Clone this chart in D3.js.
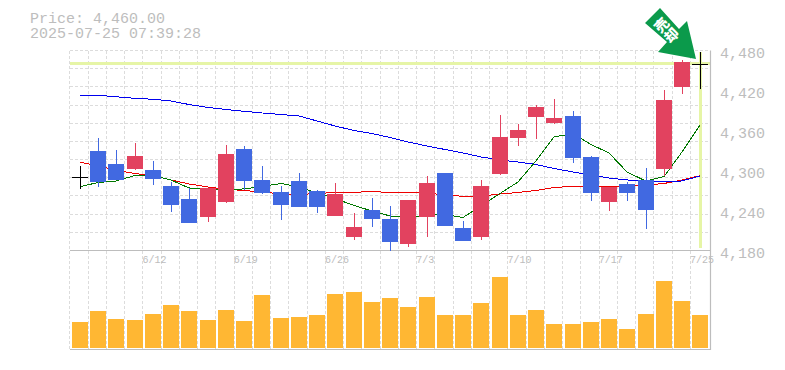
<!DOCTYPE html>
<html lang="en">
    <head>
        <meta charset="utf-8">
        <title>Price chart</title>
        <script type="text/javascript" src="https://d3js.org/d3.v7.min.js"></script>
        <style type="text/css">
            html, body {
                margin: 0;
                padding: 0;
                background: white;
                overflow: hidden;
            }
            svg {
                display: block;
            }
            text {
                font-family: "Liberation Mono", monospace;
                fill: #bdbdbd;
            }
        </style>
    </head>
    <body>
        <svg width="785" height="370"></svg>
        <script type="text/javascript">

        const dates = ["6/6","6/9","6/10","6/11","6/12","6/13","6/16","6/17","6/18","6/19","6/20","6/23","6/24","6/25","6/26","6/27","6/30","7/1","7/2","7/3","7/4","7/7","7/8","7/9","7/10","7/11","7/14","7/15","7/16","7/17","7/18","7/22","7/23","7/24","7/25"];
        const dateTicks = ["6/12","6/19","6/26","7/3","7/10","7/17","7/25"];
        const priceTicks = [4480, 4420, 4360, 4300, 4240, 4180];

        const opens = [4291,4329,4310,4302,4301,4277,4257,4230,4253,4332,4286,4268,4284,4269,4232,4200,4241,4227,4190,4230,4296,4214,4200,4295,4349,4380,4371,4382,4320,4253,4280,4286,4302,4426,4460];
        const closes = [4291,4283,4286,4322,4287,4248,4221,4274,4325,4284,4266,4248,4245,4245,4265,4215,4227,4193,4256,4281,4217,4194,4277,4350,4361,4395,4379,4319,4266,4275,4266,4241,4406,4463,4460];
        const highs = [4307,4349,4331,4341,4314,4283,4274,4274,4338,4337,4307,4277,4296,4271,4281,4236,4259,4247,4256,4292,4296,4224,4286,4383,4370,4398,4407,4389,4322,4275,4283,4304,4421,4466,4478];
        const lows = [4273,4275,4286,4301,4278,4238,4221,4223,4251,4271,4265,4226,4245,4236,4232,4196,4215,4179,4185,4200,4217,4194,4196,4293,4337,4347,4370,4311,4254,4239,4254,4212,4292,4415,4423];

        const volumes = [26,37,29,28,34,43,37,28,38,27,53,30,31,33,54,56,46,50,41,51,33,33,45,71,33,38,24,24,26,29,19,34,67,47,33];

        const maRed = [4312.3,4307.2,4300,4295.5,4292.2,4285.8,4279.8,4275.3,4271.8,4270,4267.8,4264.8,4264,4265.5,4267,4267.3,4268.5,4267,4266.3,4266.3,4263.3,4261.3,4261.5,4264.8,4267,4270,4274.5,4276.3,4276.3,4275.3,4276,4278.3,4280.5,4285.8,4292.2];
        const maBlue = [4412.8,4412.8,4410.6,4408.3,4406.8,4404.3,4399,4394.5,4391.5,4388.8,4386.3,4384,4381.8,4374.3,4366.8,4360,4355.5,4349.5,4342.8,4336.8,4331.5,4326.3,4320.3,4315.8,4312.8,4309,4303,4297.8,4293.3,4288.8,4285.8,4283.5,4282.8,4284.3,4291.8];
        const maGreen = [4275.7,4282,4284.3,4292.5,4292.5,4285.8,4273.8,4272.3,4271.5,4272.3,4276,4280.5,4275.3,4266.3,4258,4247.5,4239.3,4231.8,4229.5,4233.3,4234,4229.5,4246.8,4265.5,4282.8,4314.3,4350.3,4355.5,4339,4326.3,4297.8,4284,4291,4327.8,4368.3];

        const lastPrice = 4460;
        const titleLines = ["Price: 4,460.00", "2025-07-25 07:39:28"];
        const signalText = ["売", "却"];

        const plotLeft = 70, plotRight = 710, plotTop = 50.5, priceBottom = 250.5, volBottom = 348;
        const barWidth = 16;
        const upColor = "#e2425f", downColor = "#4169e1", volColor = "#ffb733";
        const gridColor = "#dcdcdc", borderColor = "#bdbdbd", lastColor = "#e6f5a6";

        const svg = d3.select("svg");

        const xScale = d3.scaleBand()
                         .domain(dates)
                         .range([plotLeft, plotLeft + 18.25 * dates.length]);
        const yScale = d3.scaleLinear()
                         .domain([4180, 4480])
                         .range([priceBottom, plotTop]);
        const volScale = d3.scaleLinear()
                           .domain([0, 80])
                           .range([volBottom, volBottom - 80]);

        const barLeft = d => Math.round(xScale(d) + 1.99);
        const barMid = d => barLeft(d) + barWidth / 2;

        // grid
        svg.append("g")
            .attr("shape-rendering", "crispEdges")
            .selectAll("line")
            .data(dates)
            .join("line")
            .attr("x1", d => Math.floor(xScale(d) - 0.25) + 0.5)
            .attr("x2", d => Math.floor(xScale(d) - 0.25) + 0.5)
            .attr("y1", plotTop)
            .attr("y2", 350)
            .attr("stroke", gridColor)
            .attr("stroke-dasharray", "3,2");

        svg.append("g")
            .attr("shape-rendering", "crispEdges")
            .selectAll("line")
            .data(d3.range(0, 11))
            .join("line")
            .attr("x1", plotLeft)
            .attr("x2", plotRight)
            .attr("y1", i => Math.round(yScale(4480 - i * 300 / 11) - 0.5) + 0.5)
            .attr("y2", i => Math.round(yScale(4480 - i * 300 / 11) - 0.5) + 0.5)
            .attr("stroke", gridColor)
            .attr("stroke-dasharray", "3,2");

        // current price marks
        svg.append("line")
            .attr("x1", plotLeft)
            .attr("x2", plotRight)
            .attr("y1", Math.floor(yScale(lastPrice)) + 0.5)
            .attr("y2", Math.floor(yScale(lastPrice)) + 0.5)
            .attr("stroke", lastColor)
            .attr("stroke-width", 3);

        svg.append("line")
            .attr("x1", barMid("7/25") + 0.5)
            .attr("x2", barMid("7/25") + 0.5)
            .attr("y1", 52)
            .attr("y2", 248)
            .attr("stroke", lastColor)
            .attr("stroke-width", 3);

        // borders
        [[plotLeft, 250.5, plotRight, 250.5], [plotLeft, 349.5, plotRight + 0.5, 349.5], [710.5, plotTop, 710.5, 350]].forEach(b => {
            svg.append("line")
                .attr("x1", b[0]).attr("y1", b[1])
                .attr("x2", b[2]).attr("y2", b[3])
                .attr("stroke", borderColor)
                .attr("stroke-width", 1.2);
        });

        // moving averages
        const maLine = d3.line()
                         .x((d, i) => barMid(dates[i]))
                         .y(d => yScale(d));

        [[maRed, "#ee0000"], [maBlue, "#0000ee"], [maGreen, "#007700"]].forEach(m => {
            svg.append("path")
                .attr("d", maLine(m[0]))
                .attr("fill", "none")
                .attr("stroke", m[1])
                .attr("stroke-width", 1)
                .attr("shape-rendering", "crispEdges");
        });

        // candles
        const candleColor = i => closes[i] === opens[i] ? "black" : (closes[i] > opens[i] ? upColor : downColor);

        const candles = svg.append("g")
                           .attr("shape-rendering", "crispEdges")
                           .selectAll("g")
                           .data(dates)
                           .join("g");

        candles.append("line")
            .attr("x1", d => barMid(d) + 0.5)
            .attr("x2", d => barMid(d) + 0.5)
            .attr("y1", (d, i) => yScale(highs[i]))
            .attr("y2", (d, i) => yScale(lows[i]))
            .attr("stroke", (d, i) => candleColor(i));

        candles.append("rect")
            .attr("x", barLeft)
            .attr("y", (d, i) => yScale(Math.max(opens[i], closes[i])))
            .attr("width", barWidth)
            .attr("height", (d, i) => Math.max(1, Math.abs(yScale(opens[i]) - yScale(closes[i]))))
            .attr("fill", (d, i) => candleColor(i));

        // volume
        svg.append("g")
            .attr("shape-rendering", "crispEdges")
            .selectAll("rect")
            .data(dates)
            .join("rect")
            .attr("x", barLeft)
            .attr("y", (d, i) => volScale(volumes[i]))
            .attr("width", barWidth)
            .attr("height", (d, i) => volBottom - volScale(volumes[i]))
            .attr("fill", volColor);

        // axes
        const rightAxis = d3.axisRight(yScale)
                            .tickValues(priceTicks)
                            .tickSize(0)
                            .tickPadding(0)
                            .tickFormat(d3.format(","));

        const priceAxis = svg.append("g")
                             .attr("transform", "translate(720,2.5)")
                             .call(rightAxis);
        priceAxis.select(".domain").remove();
        priceAxis.selectAll("text")
            .style("font-family", "'Liberation Mono', monospace")
            .style("font-size", "15px")
            .style("fill", "#bdbdbd");

        const bottomAxis = d3.axisBottom(xScale)
                             .tickValues(dateTicks)
                             .tickSize(0)
                             .tickPadding(0);

        const dateAxis = svg.append("g")
                            .attr("transform", "translate(0,256)")
                            .call(bottomAxis);
        dateAxis.select(".domain").remove();
        dateAxis.selectAll("text")
            .attr("text-anchor", "start")
            .attr("x", -xScale.bandwidth() / 2 - 0.5)
            .style("font-family", "'Liberation Mono', monospace")
            .style("font-size", "10px")
            .style("fill", "#bdbdbd");

        // title
        svg.selectAll(".title")
            .data(titleLines)
            .join("text")
            .attr("class", "title")
            .attr("x", 30)
            .attr("y", (d, i) => 23 + i * 15)
            .attr("font-size", 15)
            .text(d => d);

        // signal arrow
        svg.append("polygon")
            .attr("points", "660,8 645,23 667,42 658,52 696,59 687,21 679,29")
            .attr("fill", "#0b9a4b");

        svg.selectAll(".signal")
            .data(signalText)
            .join("text")
            .attr("class", "signal")
            .attr("transform", (d, i) => "translate(" + (661.5 + i * 10) + "," + (25 + i * 10) + ") rotate(-45)")
            .attr("text-anchor", "middle")
            .attr("dy", "0.38em")
            .style("font-family", "'Noto Sans CJK JP', sans-serif")
            .style("font-weight", 900)
            .style("font-size", "14px")
            .style("fill", "white")
            .text(d => d);

        </script>
    </body>
</html>
